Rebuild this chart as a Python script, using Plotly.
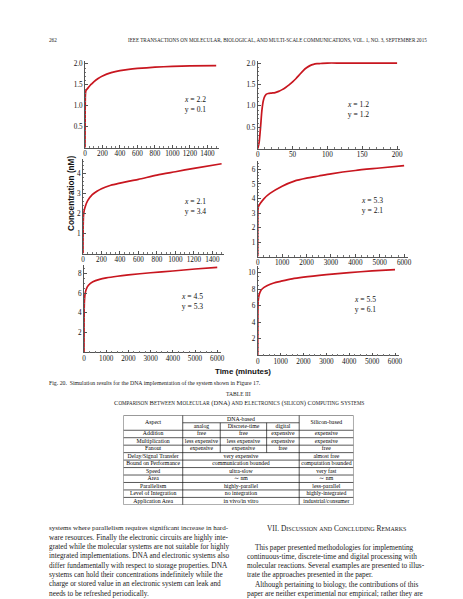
import plotly.graph_objects as go

# ---- simulation curves (time in minutes, concentration in nM)
t_a = [0, 2, 5, 10, 20, 40, 60, 80, 100, 150, 200, 300, 400, 500, 600, 800, 1000, 1200, 1500]
c_a = [0, 0.9, 1.28, 1.36, 1.39, 1.44, 1.49, 1.53, 1.57, 1.65, 1.71, 1.79, 1.84, 1.87, 1.89, 1.92, 1.94, 1.95, 1.96]

t_b = [0, 2, 4, 6, 8, 10, 12, 15, 20, 25, 30, 35, 40, 45, 50, 55, 60, 65, 70, 75, 80, 85, 90, 100, 120, 150, 200]
c_b = [0, 0.15, 0.5, 0.9, 1.12, 1.22, 1.27, 1.29, 1.30, 1.31, 1.34, 1.38, 1.43, 1.49, 1.56, 1.64, 1.73, 1.82,
       1.89, 1.94, 1.97, 1.985, 1.99, 2.0, 2.0, 2.0, 2.0]

t_c = [0, 2, 5, 10, 20, 50, 100, 150, 200, 300, 400, 500, 600, 800, 1000, 1200, 1500]
c_c = [0, 1.5, 1.9, 2.1, 2.3, 2.65, 2.95, 3.12, 3.25, 3.42, 3.53, 3.63, 3.72, 3.93, 4.1, 4.27, 4.5]

t_d = [0, 10, 30, 100, 250, 500, 1000, 1500, 2000, 2500, 3000, 4000, 5000, 6000]
c_d = [0, 3.2, 3.45, 3.65, 3.98, 4.35, 4.85, 5.2, 5.4, 5.55, 5.7, 5.93, 6.1, 6.27]

t_e = [0, 5, 20, 50, 100, 200, 400, 700, 1000, 1500, 2000, 3000, 4000, 5000, 6000]
c_e = [0, 4.0, 5.3, 5.95, 6.4, 6.8, 7.15, 7.4, 7.55, 7.72, 7.85, 8.07, 8.25, 8.45, 8.62]

t_f = [0, 5, 20, 50, 100, 200, 400, 700, 1000, 1500, 2000, 3000, 4000, 5000, 6000]
c_f = [0, 5.0, 6.6, 7.2, 7.65, 8.05, 8.4, 8.75, 8.95, 9.25, 9.45, 9.75, 10.0, 10.2, 10.35]

params = [("2.2", "0.1"), ("1.2", "1.2"), ("2.1", "3.4"), ("5.3", "2.1"), ("4.5", "5.3"), ("5.5", "6.1")]

xt_1500 = [0, 200, 400, 600, 800, 1000, 1200, 1400]
xt_200 = [0, 50, 100, 150, 200]
xt_6000 = [0, 1000, 2000, 3000, 4000, 5000, 6000]
yt_a = [0.5, 1.0, 1.5, 2.0]
yt_c = [1, 2, 3, 4]
yt_d = [1, 2, 3, 4, 5, 6]
yt_e = [2, 4, 6, 8]
yt_f = [2, 4, 6, 8, 10]

# ---- table III
tab_cols = ["analog", "Discrete-time", "digital"]
dna_aspects = ["Addition", "Multiplication", "Fanout"]
dna_vals = [["free", "free", "expensive", "expensive"],
            ["less expensive", "less expensive", "expensive", "expensive"],
            ["expensive", "expensive", "free", "free"]]
merged_aspects = ["Delay/Signal Transfer", "Bound on Performance", "Speed", "Area",
                  "Parallelism", "Level of Integration", "Application Area"]
merged_dna = ["very expensive", "communication bounded", "ultra-slow", "\u223c nm",
              "highly-parallel", "no integration", "in vivo/in vitro"]
merged_si = ["almost free", "computation bounded", "very fast", "\u223c nm",
             "less-parallel", "highly-integrated", "industrial/consumer"]

left_lines = [
    "systems where parallelism requires significant increase in hard-",
    "ware resources. Finally the electronic circuits are highly inte-",
    "grated while the molecular systems are not suitable for highly",
    "integrated implementations. DNA and electronic systems also",
    "differ fundamentally with respect to storage properties. DNA",
    "systems can hold their concentrations indefinitely while the",
    "charge or stored value in an electronic system can leak and",
    "needs to be refreshed periodically.",
]
right_lines = [
    "This paper presented methodologies for implementing",
    "continuous-time, discrete-time and digital processing with",
    "molecular reactions. Several examples are presented to illus-",
    "trate the approaches presented in the paper.",
    "Although pertaining to biology, the contributions of this",
    "paper are neither experimental nor empirical; rather they are",
]

W, H = 463, 599
SERIF = "Liberation Serif"
RED = "#c8161f"
TXT = "#1a1a1a"


def px(x):
    return x / W


def py(y):
    return 1 - y / H


def smallcaps(s, small):
    out, buf = [], ""
    for ch in s:
        if ch.islower():
            buf += ch.upper()
        else:
            if buf:
                out.append(f"<span style='font-size:{small}px'>{buf}</span>")
                buf = ""
            out.append(ch)
    if buf:
        out.append(f"<span style='font-size:{small}px'>{buf}</span>")
    return "".join(out)


def note(x, y, text, size, anchor="center", family=SERIF, color=TXT, angle=0):
    return dict(x=px(x), y=py(y), xref="paper", yref="paper", xanchor=anchor, yanchor="middle",
                showarrow=False, text=text, textangle=angle, align="center",
                font=dict(family=family, size=size, color=color))


# panel layout: pixel domains, axis ranges, ticks, label centre
panels = [
    dict(t=t_a, c=c_a, xd=(76, 212), yd=(52, 139), xr=1535, yr=2.07, xt=xt_1500, yt=yt_a, fmt="{:.1f}",
         xm=50, ym=0.1, lab=(187, 96)),
    dict(t=t_b, c=c_b, xd=(251, 395), yd=(52, 140), xr=204, yr=2.05, xt=xt_200, yt=yt_a, fmt="{:.1f}",
         xm=10, ym=0.1, lab=(353, 101)),
    dict(t=t_c, c=c_c, xd=(74, 217), yd=(150, 245), xr=1528, yr=4.75, xt=xt_1500, yt=yt_c, fmt="{:g}",
         xm=50, ym=0.2, lab=(187, 198)),
    dict(t=t_d, c=c_d, xd=(251, 403), yd=(152, 248), xr=6150, yr=6.6, xt=xt_6000, yt=yt_d, fmt="{:g}",
         xm=250, ym=0.2, lab=(367, 197)),
    dict(t=t_e, c=c_e, xd=(75, 214), yd=(256, 344), xr=6180, yr=8.9, xt=xt_6000, yt=yt_e, fmt="{:g}",
         xm=250, ym=0.5, lab=(184, 293)),
    dict(t=t_f, c=c_f, xd=(251, 394), yd=(257, 347), xr=6170, yr=10.85, xt=xt_6000, yt=yt_f, fmt="{:g}",
         xm=250, ym=0.5, lab=(360, 296)),
]

fig = go.Figure()
layout = {}
annotations = []
tick_font = dict(family=SERIF, size=7.2, color="#111")

for i, p in enumerate(panels, start=1):
    sfx = "" if i == 1 else str(i)
    fig.add_trace(go.Scatter(
        x=p["t"], y=p["c"], mode="lines", xaxis="x" + sfx, yaxis="y" + sfx,
        line=dict(color=RED, width=1.7, shape="spline", smoothing=0.7),
        showlegend=False, hoverinfo="skip"))
    layout["xaxis" + sfx] = dict(
        domain=[px(p["xd"][0]), px(p["xd"][1])], range=[0, p["xr"]], anchor="y" + sfx,
        showgrid=False, zeroline=False, showline=True, linecolor="#555", linewidth=0.8,
        tickmode="array", tickvals=p["xt"], ticktext=[str(v) for v in p["xt"]],
        ticks="inside", ticklen=3, tickwidth=0.6, tickcolor="#555", tickfont=tick_font,
        ticklabelstandoff=-1,
        minor=dict(ticks="inside", ticklen=1.5, tickwidth=0.5, tickcolor="#777", dtick=p["xm"], tick0=0),
        fixedrange=True)
    layout["yaxis" + sfx] = dict(
        domain=[py(p["yd"][1]), py(p["yd"][0])], range=[0, p["yr"]], anchor="x" + sfx,
        showgrid=False, zeroline=False, showline=True, linecolor="#555", linewidth=0.8,
        tickmode="array", tickvals=p["yt"], ticktext=[p["fmt"].format(v) for v in p["yt"]],
        ticks="inside", ticklen=3, tickwidth=0.6, tickcolor="#555", tickfont=tick_font,
        minor=dict(ticks="inside", ticklen=1.5, tickwidth=0.5, tickcolor="#777", dtick=p["ym"], tick0=0),
        fixedrange=True)
    xv, yv = params[i - 1]
    annotations.append(note(p["lab"][0], p["lab"][1], f"<i>x</i> = {xv}<br>y = {yv}", 7.6, color="#111"))

# axis titles shared by the grid
annotations.append(note(62, 185, "<b>Concentration (nM)</b>", 8.2, family="Liberation Sans", color="#111",
                        angle=-90))
annotations.append(note(236, 363, "<b>Time (minutes)</b>", 7.9, family="Liberation Sans", color="#111"))

# ---- table III drawn on its own hidden axes
edges = [0, 60, 98, 145, 178, 233]
centres = [(edges[k] + edges[k + 1]) / 2 for k in range(5)]
n_rows = 2 + len(dna_aspects) + len(merged_aspects)
layout["xaxis7"] = dict(domain=[px(115), px(348)], range=[0, 233], anchor="y7", visible=False, fixedrange=True)
layout["yaxis7"] = dict(domain=[py(496.7), py(407)], range=[n_rows, 0], anchor="x7", visible=False,
                        fixedrange=True)

tx, ty, tt = [], [], []
tx += [centres[0], (edges[1] + edges[4]) / 2, centres[4]]
ty += [1, 0.5, 1]
tt += ["Aspect", "DNA-based", "Silicon-based"]
for k, name in enumerate(tab_cols):
    tx.append(centres[k + 1]); ty.append(1.5); tt.append(name)
for r, (name, vals) in enumerate(zip(dna_aspects, dna_vals)):
    row = 2.5 + r
    tx.append(centres[0]); ty.append(row); tt.append(name)
    for k, v in enumerate(vals):
        tx.append(centres[k + 1]); ty.append(row); tt.append(v)
for r, (name, dv, sv) in enumerate(zip(merged_aspects, merged_dna, merged_si)):
    row = 2.5 + len(dna_aspects) + r
    tx += [centres[0], (edges[1] + edges[4]) / 2, centres[4]]
    ty += [row, row, row]
    tt += [name, dv, sv]
fig.add_trace(go.Scatter(x=tx, y=ty, text=tt, mode="text", xaxis="x7", yaxis="y7",
                         textfont=dict(family=SERIF, size=5.8, color="#000"),
                         showlegend=False, hoverinfo="skip"))

shapes = []
ln = dict(color="#111", width=0.7)
shapes.append(dict(type="rect", xref="x7", yref="y7", x0=0, x1=233, y0=0, y1=n_rows, line=ln))
shapes.append(dict(type="line", xref="x7", yref="y7", x0=edges[1], x1=edges[4], y0=1, y1=1, line=ln))
for r in range(2, n_rows):
    shapes.append(dict(type="line", xref="x7", yref="y7", x0=0, x1=233, y0=r, y1=r, line=ln))
for e in (edges[1], edges[4]):
    shapes.append(dict(type="line", xref="x7", yref="y7", x0=e, x1=e, y0=0, y1=n_rows, line=ln))
for e in (edges[2], edges[3]):
    shapes.append(dict(type="line", xref="x7", yref="y7", x0=e, x1=e, y0=1, y1=2 + len(dna_aspects), line=ln))

# ---- page text
annotations.append(note(37, 31, "262", 5.2, anchor="left"))
annotations.append(note(424, 31, "IEEE TRANSACTIONS ON MOLECULAR, BIOLOGICAL, AND MULTI-SCALE COMMUNICATIONS, "
                                 "VOL. 1, NO. 3, SEPTEMBER 2015", 5.1, anchor="right"))
annotations.append(note(37, 375, "Fig. 20.  Simulation results for the DNA implementation of the system shown in Figure 17.",
                        5.8, anchor="left"))
annotations.append(note(231, 386, "TABLE III", 5.6))
annotations.append(note(232, 394.5,
                        smallcaps("Comparison Between Molecular (DNA) and Electronics (silicon) Computing Systems", 5.1),
                        6.6))

for k, line in enumerate(left_lines):
    annotations.append(note(37, 520 + 9.3 * k, line, 7.05 if k == 0 else 7.3, anchor="left"))
annotations.append(note(331, 520, smallcaps("VII. Discussion and Concluding Remarks", 6.0), 7.4))
for k, line in enumerate(right_lines):
    indent = 8 if k in (0, 4) else 0
    annotations.append(note(238 + indent, 539 + 9.3 * k, line, 7.3, anchor="left"))

fig.update_layout(
    width=W, height=H, autosize=False,
    margin=dict(l=0, r=0, t=0, b=0),
    paper_bgcolor="white", plot_bgcolor="white",
    annotations=annotations, shapes=shapes,
    **layout,
)

fig.write_html("out.html", config={"displayModeBar": False})
